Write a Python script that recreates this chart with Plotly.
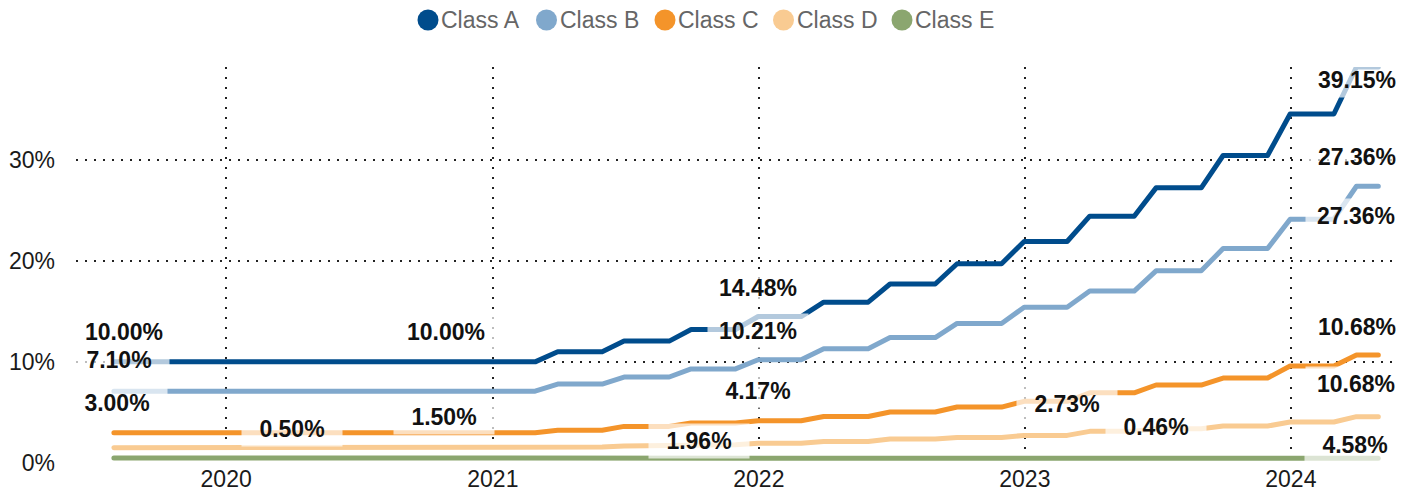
import calendar
import plotly.graph_objects as go

# ---------------- data ----------------
series_names = ["Class A", "Class B", "Class C", "Class D", "Class E"]

class_a = [10.00, 10.00, 10.00, 10.00, 10.00, 10.00, 10.00, 10.00, 10.00, 10.00,
           10.00, 10.00, 10.00, 10.00, 10.00, 10.00, 10.00, 10.00, 10.00, 10.00,
           11.00, 11.00, 11.00, 12.05, 12.05, 12.05, 13.20, 13.20, 13.20, 14.48, 14.48, 14.48,
           15.90, 15.90, 15.90, 17.70, 17.70, 17.70, 19.70, 19.70, 19.70, 21.90, 21.90, 21.90,
           24.40, 24.40, 24.40, 27.20, 27.20, 27.20, 30.40, 30.40, 30.40, 34.50, 34.50, 34.50,
           39.15, 39.15]
class_b = [7.10, 7.10, 7.10, 7.10, 7.10, 7.10, 7.10, 7.10, 7.10, 7.10,
           7.10, 7.10, 7.10, 7.10, 7.10, 7.10, 7.10, 7.10, 7.10, 7.10,
           7.80, 7.80, 7.80, 8.50, 8.50, 8.50, 9.30, 9.30, 9.30, 10.21, 10.21, 10.21,
           11.30, 11.30, 11.30, 12.40, 12.40, 12.40, 13.80, 13.80, 13.80, 15.40, 15.40, 15.40,
           17.00, 17.00, 17.00, 19.00, 19.00, 19.00, 21.20, 21.20, 21.20, 24.10, 24.10, 24.10,
           27.36, 27.36]
class_c = [3.00, 3.00, 3.00, 3.00, 3.00, 3.00, 3.00, 3.00, 3.00, 3.00,
           3.00, 3.00, 3.00, 3.00, 3.00, 3.00, 3.00, 3.00, 3.00, 3.00,
           3.23, 3.23, 3.23, 3.62, 3.62, 3.62, 3.95, 3.95, 3.95, 4.17, 4.17, 4.17,
           4.60, 4.60, 4.60, 5.04, 5.04, 5.04, 5.53, 5.53, 5.53, 6.10, 6.10, 6.10,
           6.94, 6.94, 6.94, 7.71, 7.71, 7.71, 8.40, 8.40, 8.40, 9.59, 9.59, 9.59,
           10.68, 10.68]
class_d = [1.50, 1.50, 1.50, 1.50, 1.50, 1.50, 1.50, 1.50, 1.50, 1.50,
           1.50, 1.50, 1.50, 1.50, 1.50, 1.50, 1.50, 1.50, 1.50, 1.50,
           1.58, 1.58, 1.58, 1.68, 1.68, 1.68, 1.80, 1.80, 1.80, 1.96, 1.96, 1.96,
           2.13, 2.13, 2.13, 2.38, 2.38, 2.38, 2.53, 2.53, 2.53, 2.73, 2.73, 2.73,
           3.13, 3.13, 3.13, 3.38, 3.38, 3.38, 3.65, 3.65, 3.65, 4.05, 4.05, 4.05,
           4.58, 4.58]
class_e = [0.50, 0.50, 0.50, 0.50, 0.50, 0.50, 0.50, 0.50, 0.50, 0.50,
           0.50, 0.50, 0.50, 0.50, 0.50, 0.50, 0.50, 0.50, 0.50, 0.50,
           0.50, 0.50, 0.50, 0.50, 0.50, 0.50, 0.50, 0.50, 0.50, 0.50, 0.50, 0.50,
           0.49, 0.49, 0.49, 0.48, 0.48, 0.48, 0.48, 0.48, 0.48, 0.47, 0.47, 0.47,
           0.47, 0.47, 0.47, 0.46, 0.46, 0.46, 0.46, 0.46, 0.46, 0.46, 0.46, 0.46,
           0.46, 0.46]

series_values = [class_a, class_b, class_c, class_d, class_e]
colors = ["#004C8C", "#80A8CC", "#F4942A", "#F9CB92", "#8BA66F"]

# monthly observation dates: month ends, Jul 2019 .. Apr 2024
start_year, start_month, n_months = 2019, 7, 58
dates = []
y, m = start_year, start_month
for _ in range(n_months):
    dates.append(f"{y:04d}-{m:02d}-{calendar.monthrange(y, m)[1]:02d}")
    m += 1
    if m > 12:
        m, y = 1, y + 1

year_ticks = ["2020-01-01", "2021-01-01", "2022-01-01", "2023-01-01", "2024-01-01"]
year_labels = ["2020", "2021", "2022", "2023", "2024"]
y_ticks = [0, 10, 20, 30]
y_tick_labels = ["0%", "10%", "20%", "30%"]

# data labels: (series index, point index, x shift px, y shift px)
label_points = [
    (0, 0, 10, 30), (1, 0, 5, 31), (2, 0, 3, 30),
    (4, 8, 0, 29), (3, 15, -4, 31), (0, 15, -2, 30),
    (0, 29, 0, 29), (1, 29, 0, 29), (2, 29, 0, 30), (3, 29, -59, 2),
    (3, 43, 0, 31), (4, 47, 0, 31),
    (0, 57, -21, -13), (1, 57, -21, 29), (1, 56, 0, -30),
    (2, 57, -21, 28), (2, 56, 0, -29), (3, 56, -1, -28),
]

# ---------------- figure ----------------
FONT = "Liberation Sans, Arial, Helvetica, sans-serif"
W, H = 1413, 495
ML, MR, MT, MB = 76, 15, 67, 32

fig = go.Figure()
for name, vals, col in zip(series_names, series_values, colors):
    fig.add_trace(go.Scatter(x=dates, y=vals, name=name, mode="lines",
                             line=dict(color=col, width=5), showlegend=False,
                             hoverinfo="skip"))

annotations = []
for si, pi, xs, ys in label_points:
    v = series_values[si][pi]
    annotations.append(dict(
        x=dates[pi], y=v, xref="x", yref="y", text=f"<b>{v:.2f}%</b>",
        showarrow=False, xanchor="center", yanchor="middle",
        xshift=xs, yshift=ys, width=100, height=34, borderpad=0,
        bgcolor="rgba(255,255,255,0.7)",
        font=dict(family=FONT, size=23, color="#111111")))

# custom legend
plot_w = W - ML - MR
plot_h = H - MT - MB
shapes = []
leg_y_px = 20
leg_start_px = 428
leg_step = 118.5
for i, (name, col) in enumerate(zip(series_names, colors)):
    cx = leg_start_px + i * leg_step
    px_x = (cx - ML) / plot_w
    px_y = (H - MB - leg_y_px) / plot_h
    shapes.append(dict(type="circle", xref="paper", yref="paper",
                       xsizemode="pixel", ysizemode="pixel",
                       xanchor=px_x, yanchor=px_y, x0=-10.5, x1=10.5, y0=-10.5, y1=10.5,
                       fillcolor=col, line=dict(width=0)))
    annotations.append(dict(x=(cx + 11 - ML) / plot_w, y=px_y, xref="paper", yref="paper",
                            text=name, showarrow=False, xanchor="left", yanchor="middle",
                            font=dict(family=FONT, size=23, color="#666666")))

grid_common = dict(showgrid=True, gridcolor="#222222", gridwidth=1.5,
                   zeroline=False, showline=False, automargin=False, ticks="")

fig.update_layout(
    width=W, height=H,
    margin=dict(l=ML, r=MR, t=MT, b=MB),
    paper_bgcolor="white", plot_bgcolor="white",
    font=dict(family=FONT, size=23, color="#1a1a1a"),
    showlegend=False,
    annotations=annotations,
    shapes=shapes,
    xaxis=dict(range=["2019-06-09", "2024-05-27"], tickvals=year_ticks, ticktext=year_labels,
               griddash="2px,8px", tickfont=dict(size=23, color="#1a1a1a"), **grid_common),
    yaxis=dict(range=[0, 39.15], tickvals=y_ticks, ticktext=y_tick_labels,
               griddash="2px,7px", ticklabelstandoff=20,
               tickfont=dict(size=23, color="#1a1a1a"), **grid_common),
)

fig.write_html(
    "out.html",
    config={"displayModeBar": False},
    post_script=(
        "document.body.style.margin='0';document.body.style.overflow='hidden';"
        "document.querySelectorAll('.scatterlayer path.js-line').forEach(function(p){"
        "p.style.strokeLinecap='round';p.style.strokeLinejoin='round';});"
    ),
)
